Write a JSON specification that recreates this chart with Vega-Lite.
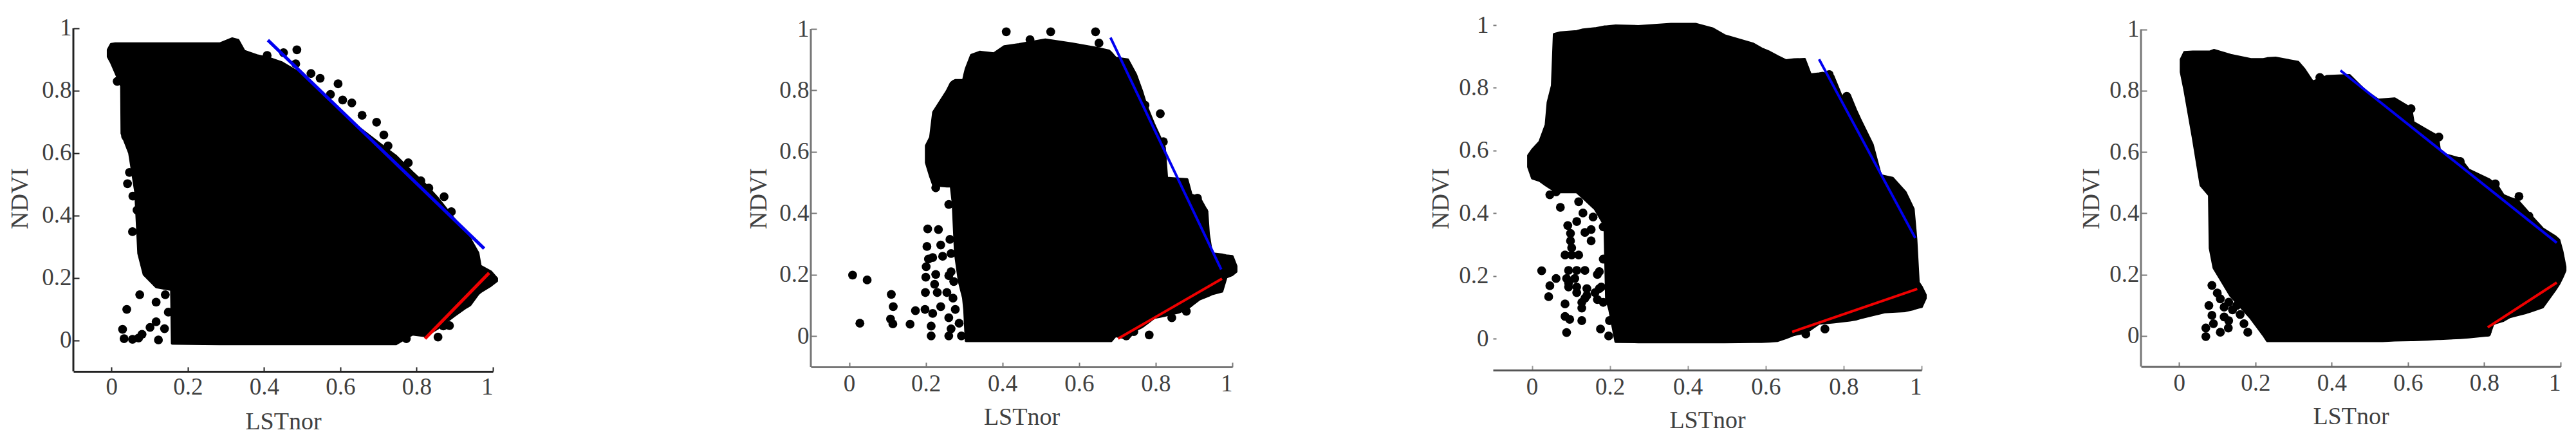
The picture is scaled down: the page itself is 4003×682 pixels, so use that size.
{
"$schema":"https://vega.github.io/schema/vega-lite/v6.json",
"background":"white",
"padding":{"left":12,"top":20,"right":0,"bottom":0},
"config":{"view":{"stroke":null},"font":"Liberation Serif","axis":{"grid":false,"labelFont":"Liberation Serif","titleFont":"Liberation Serif","labelFontSize":37,"titleFontSize":38,"titleFontWeight":"normal","labelColor":"#404040","titleColor":"#404040","labelOverlap":false,"labelBound":false,"labelAngle":0}},
"datasets":{
"frame":[{"x":-0.1,"y":-0.1,"y2":1}],
"a_env":[{"x":-0.009,"y":0.909,"y2":0.931},{"x":-0.001,"y":0.891,"y2":0.949},{"x":0.01,"y":0.86,"y2":0.951},{"x":0.026,"y":0.815,"y2":0.951},{"x":0.027,"y":0.663,"y2":0.951},{"x":0.047,"y":0.6,"y2":0.951},{"x":0.063,"y":0.475,"y2":0.951},{"x":0.071,"y":0.278,"y2":0.951},{"x":0.085,"y":0.211,"y2":0.951},{"x":0.117,"y":0.171,"y2":0.951},{"x":0.157,"y":0.162,"y2":0.951},{"x":0.159,"y":-0.01,"y2":0.951},{"x":0.284,"y":-0.012,"y2":0.951},{"x":0.316,"y":-0.012,"y2":0.967},{"x":0.332,"y":-0.012,"y2":0.962},{"x":0.348,"y":-0.012,"y2":0.927},{"x":0.381,"y":-0.012,"y2":0.913},{"x":0.413,"y":-0.012,"y2":0.904},{"x":0.445,"y":-0.012,"y2":0.891},{"x":0.488,"y":-0.012,"y2":0.86},{"x":0.553,"y":-0.012,"y2":0.792},{"x":0.639,"y":-0.012,"y2":0.69},{"x":0.725,"y":-0.012,"y2":0.609},{"x":0.746,"y":-0.012,"y2":0.59},{"x":0.789,"y":0.019,"y2":0.538},{"x":0.822,"y":0.014,"y2":0.5},{"x":0.854,"y":0.037,"y2":0.457},{"x":0.897,"y":0.077,"y2":0.39},{"x":0.929,"y":0.105,"y2":0.341},{"x":0.94,"y":0.113,"y2":0.325},{"x":0.961,"y":0.148,"y2":0.28},{"x":0.967,"y":0.155,"y2":0.238},{"x":0.994,"y":0.175,"y2":0.22},{"x":1.01,"y":0.19,"y2":0.198}],
"a_pts":[{"x":0.486,"y":0.931},{"x":0.451,"y":0.922},{"x":0.408,"y":0.913},{"x":0.483,"y":0.886},{"x":0.523,"y":0.855},{"x":0.547,"y":0.84},{"x":0.594,"y":0.822},{"x":0.574,"y":0.788},{"x":0.606,"y":0.77},{"x":0.63,"y":0.761},{"x":0.657,"y":0.721},{"x":0.695,"y":0.699},{"x":0.714,"y":0.658},{"x":0.725,"y":0.623},{"x":0.778,"y":0.569},{"x":0.811,"y":0.511},{"x":0.832,"y":0.488},{"x":0.872,"y":0.46},{"x":0.891,"y":0.412},{"x":0.934,"y":0.318},{"x":0.015,"y":0.83},{"x":0.042,"y":0.502},{"x":0.047,"y":0.538},{"x":0.056,"y":0.462},{"x":0.067,"y":0.417},{"x":0.055,"y":0.348},{"x":0.037,"y":0.654},{"x":0.074,"y":0.146},{"x":0.04,"y":0.099},{"x":0.029,"y":0.035},{"x":0.033,"y":0.005},{"x":0.055,"y":0.003},{"x":0.071,"y":0.007},{"x":0.117,"y":0.122},{"x":0.141,"y":0.146},{"x":0.101,"y":0.041},{"x":0.117,"y":0.059},{"x":0.123,"y":0.001},{"x":0.139,"y":0.037},{"x":0.149,"y":0.09},{"x":0.856,"y":0.01},{"x":0.886,"y":0.047},{"x":0.87,"y":0.046},{"x":0.929,"y":0.117},{"x":0.994,"y":0.198},{"x":0.773,"y":0.005},{"x":0.394,"y":0.885},{"x":0.383,"y":0.842},{"x":0.359,"y":0.9},{"x":0.08,"y":0.019},{"x":0.961,"y":0.162}],
"a_lines":[{"x":0.41,"y":0.962,"edge":"dry"},{"x":0.977,"y":0.294,"edge":"dry"},{"x":0.822,"y":0.005,"edge":"wet"},{"x":0.99,"y":0.216,"edge":"wet"}],
"b_env":[{"x":0.201,"y":0.565,"y2":0.62},{"x":0.212,"y":0.52,"y2":0.647},{"x":0.22,"y":0.492,"y2":0.729},{"x":0.255,"y":0.488,"y2":0.797},{"x":0.266,"y":0.488,"y2":0.824},{"x":0.271,"y":0.433,"y2":0.829},{"x":0.277,"y":0.269,"y2":0.833},{"x":0.287,"y":0.178,"y2":0.833},{"x":0.298,"y":0.124,"y2":0.833},{"x":0.301,"y":0.087,"y2":0.85},{"x":0.305,"y":-0.015,"y2":0.87},{"x":0.319,"y":-0.015,"y2":0.915},{"x":0.341,"y":-0.015,"y2":0.925},{"x":0.378,"y":-0.015,"y2":0.92},{"x":0.405,"y":-0.015,"y2":0.943},{"x":0.443,"y":-0.015,"y2":0.95},{"x":0.512,"y":-0.015,"y2":0.965},{"x":0.582,"y":-0.015,"y2":0.952},{"x":0.646,"y":-0.015,"y2":0.938},{"x":0.678,"y":-0.015,"y2":0.929},{"x":0.684,"y":-0.015,"y2":0.922},{"x":0.695,"y":0.001,"y2":0.906},{"x":0.727,"y":-0.008,"y2":0.9},{"x":0.748,"y":0.02,"y2":0.852},{"x":0.764,"y":0.03,"y2":0.797},{"x":0.775,"y":0.04,"y2":0.752},{"x":0.796,"y":0.06,"y2":0.688},{"x":0.823,"y":0.067,"y2":0.615},{"x":0.829,"y":0.069,"y2":0.515},{"x":0.861,"y":0.078,"y2":0.512},{"x":0.882,"y":0.09,"y2":0.51},{"x":0.893,"y":0.1,"y2":0.46},{"x":0.914,"y":0.12,"y2":0.451},{"x":0.934,"y":0.13,"y2":0.406},{"x":0.938,"y":0.132,"y2":0.333},{"x":0.946,"y":0.137,"y2":0.269},{"x":0.973,"y":0.146,"y2":0.265},{"x":0.984,"y":0.192,"y2":0.262},{"x":1.0,"y":0.2,"y2":0.26},{"x":1.01,"y":0.21,"y2":0.228}],
"b_pts":[{"x":0.41,"y":0.991},{"x":0.472,"y":0.965},{"x":0.526,"y":0.991},{"x":0.643,"y":0.991},{"x":0.652,"y":0.954},{"x":0.812,"y":0.724},{"x":0.82,"y":0.633},{"x":0.909,"y":0.449},{"x":0.925,"y":0.406},{"x":0.772,"y":0.752},{"x":0.009,"y":0.199},{"x":0.047,"y":0.183},{"x":0.11,"y":0.136},{"x":0.115,"y":0.096},{"x":0.028,"y":0.042},{"x":0.108,"y":0.056},{"x":0.114,"y":0.04},{"x":0.159,"y":0.039},{"x":0.173,"y":0.083},{"x":0.198,"y":0.087},{"x":0.218,"y":0.074},{"x":0.214,"y":0.033},{"x":0.214,"y":0.001},{"x":0.205,"y":0.349},{"x":0.233,"y":0.347},{"x":0.203,"y":0.292},{"x":0.239,"y":0.297},{"x":0.263,"y":0.315},{"x":0.26,"y":0.429},{"x":0.226,"y":0.483},{"x":0.207,"y":0.251},{"x":0.201,"y":0.226},{"x":0.226,"y":0.201},{"x":0.2,"y":0.192},{"x":0.223,"y":0.169},{"x":0.199,"y":0.142},{"x":0.23,"y":0.142},{"x":0.218,"y":0.256},{"x":0.244,"y":0.26},{"x":0.266,"y":0.269},{"x":0.266,"y":0.21},{"x":0.26,"y":0.197},{"x":0.273,"y":0.178},{"x":0.255,"y":0.142},{"x":0.239,"y":0.096},{"x":0.271,"y":0.124},{"x":0.26,"y":0.06},{"x":0.277,"y":0.087},{"x":0.266,"y":0.024},{"x":0.26,"y":0.001},{"x":0.287,"y":0.042},{"x":0.293,"y":0.001},{"x":0.842,"y":0.06},{"x":0.88,"y":0.081},{"x":0.783,"y":0.004},{"x":0.743,"y":0.015},{"x":0.723,"y":0.001}],
"b_lines":[{"x":0.682,"y":0.972,"edge":"dry"},{"x":0.971,"y":0.217,"edge":"dry"},{"x":0.702,"y":-0.008,"edge":"wet"},{"x":0.973,"y":0.187,"edge":"wet"}],
"c_env":[{"x":-0.009,"y":0.548,"y2":0.584},{"x":0.001,"y":0.512,"y2":0.602},{"x":0.02,"y":0.504,"y2":0.628},{"x":0.036,"y":0.49,"y2":0.682},{"x":0.041,"y":0.486,"y2":0.753},{"x":0.052,"y":0.477,"y2":0.807},{"x":0.057,"y":0.477,"y2":0.971},{"x":0.073,"y":0.468,"y2":0.976},{"x":0.115,"y":0.468,"y2":0.98},{"x":0.131,"y":0.45,"y2":0.985},{"x":0.162,"y":0.414,"y2":0.989},{"x":0.187,"y":0.361,"y2":0.995},{"x":0.191,"y":0.129,"y2":0.995},{"x":0.199,"y":0.094,"y2":0.996},{"x":0.215,"y":-0.009,"y2":0.998},{"x":0.273,"y":-0.01,"y2":0.996},{"x":0.357,"y":-0.01,"y2":1.003},{"x":0.42,"y":-0.01,"y2":1.003},{"x":0.463,"y":-0.01,"y2":0.989},{"x":0.494,"y":-0.01,"y2":0.967},{"x":0.568,"y":-0.009,"y2":0.94},{"x":0.589,"y":-0.009,"y2":0.925},{"x":0.61,"y":-0.008,"y2":0.914},{"x":0.631,"y":-0.006,"y2":0.9},{"x":0.652,"y":0.003,"y2":0.887},{"x":0.673,"y":0.013,"y2":0.89},{"x":0.7,"y":0.02,"y2":0.891},{"x":0.715,"y":0.03,"y2":0.842},{"x":0.737,"y":0.049,"y2":0.845},{"x":0.747,"y":0.05,"y2":0.847},{"x":0.773,"y":0.053,"y2":0.838},{"x":0.795,"y":0.056,"y2":0.771},{"x":0.816,"y":0.059,"y2":0.775},{"x":0.831,"y":0.062,"y2":0.73},{"x":0.842,"y":0.066,"y2":0.7},{"x":0.874,"y":0.076,"y2":0.619},{"x":0.895,"y":0.082,"y2":0.521},{"x":0.905,"y":0.085,"y2":0.518},{"x":0.926,"y":0.087,"y2":0.512},{"x":0.958,"y":0.089,"y2":0.468},{"x":0.979,"y":0.095,"y2":0.414},{"x":0.986,"y":0.098,"y2":0.316},{"x":0.992,"y":0.1,"y2":0.18},{"x":1.0,"y":0.102,"y2":0.165},{"x":1.01,"y":0.129,"y2":0.14}],
"c_pts":[{"x":0.025,"y":0.217},{"x":0.062,"y":0.192},{"x":0.046,"y":0.169},{"x":0.043,"y":0.134},{"x":0.085,"y":0.111},{"x":0.085,"y":0.071},{"x":0.097,"y":0.062},{"x":0.089,"y":0.02},{"x":0.128,"y":0.058},{"x":0.128,"y":0.098},{"x":0.176,"y":0.031},{"x":0.197,"y":0.009},{"x":0.199,"y":0.058},{"x":0.094,"y":0.218},{"x":0.115,"y":0.218},{"x":0.136,"y":0.218},{"x":0.089,"y":0.192},{"x":0.11,"y":0.192},{"x":0.094,"y":0.165},{"x":0.115,"y":0.165},{"x":0.141,"y":0.16},{"x":0.173,"y":0.16},{"x":0.094,"y":0.178},{"x":0.115,"y":0.147},{"x":0.141,"y":0.138},{"x":0.162,"y":0.147},{"x":0.178,"y":0.165},{"x":0.168,"y":0.205},{"x":0.173,"y":0.214},{"x":0.183,"y":0.254},{"x":0.128,"y":0.116},{"x":0.168,"y":0.125},{"x":0.183,"y":0.116},{"x":0.136,"y":0.129},{"x":0.085,"y":0.267},{"x":0.102,"y":0.267},{"x":0.12,"y":0.267},{"x":0.102,"y":0.29},{"x":0.099,"y":0.312},{"x":0.099,"y":0.336},{"x":0.092,"y":0.361},{"x":0.136,"y":0.339},{"x":0.152,"y":0.348},{"x":0.152,"y":0.312},{"x":0.115,"y":0.374},{"x":0.131,"y":0.401},{"x":0.12,"y":0.437},{"x":0.157,"y":0.388},{"x":0.073,"y":0.419},{"x":0.046,"y":0.459},{"x":0.062,"y":0.468},{"x":0.183,"y":0.357},{"x":0.763,"y":0.842},{"x":0.808,"y":0.773},{"x":0.752,"y":0.031},{"x":0.703,"y":0.015}],
"c_lines":[{"x":0.737,"y":0.891,"edge":"dry"},{"x":0.984,"y":0.321,"edge":"dry"},{"x":0.668,"y":0.022,"edge":"wet"},{"x":0.989,"y":0.159,"edge":"wet"}],
"d_env":[{"x":0.005,"y":0.861,"y2":0.902},{"x":0.014,"y":0.806,"y2":0.925},{"x":0.036,"y":0.651,"y2":0.927},{"x":0.057,"y":0.491,"y2":0.927},{"x":0.079,"y":0.459,"y2":0.927},{"x":0.081,"y":0.286,"y2":0.927},{"x":0.091,"y":0.222,"y2":0.932},{"x":0.135,"y":0.131,"y2":0.916},{"x":0.188,"y":0.058,"y2":0.902},{"x":0.221,"y":0.003,"y2":0.902},{"x":0.231,"y":-0.016,"y2":0.905},{"x":0.253,"y":-0.016,"y2":0.907},{"x":0.312,"y":-0.016,"y2":0.893},{"x":0.328,"y":-0.016,"y2":0.87},{"x":0.35,"y":-0.016,"y2":0.829},{"x":0.388,"y":-0.016,"y2":0.847},{"x":0.447,"y":-0.016,"y2":0.85},{"x":0.49,"y":-0.016,"y2":0.797},{"x":0.522,"y":-0.016,"y2":0.77},{"x":0.533,"y":-0.016,"y2":0.771},{"x":0.565,"y":-0.014,"y2":0.774},{"x":0.608,"y":-0.013,"y2":0.742},{"x":0.614,"y":-0.013,"y2":0.697},{"x":0.651,"y":-0.011,"y2":0.67},{"x":0.678,"y":-0.009,"y2":0.651},{"x":0.684,"y":-0.009,"y2":0.596},{"x":0.737,"y":-0.006,"y2":0.578},{"x":0.759,"y":-0.004,"y2":0.542},{"x":0.813,"y":0.003,"y2":0.51},{"x":0.823,"y":0.039,"y2":0.5},{"x":0.829,"y":0.042,"y2":0.5},{"x":0.85,"y":0.05,"y2":0.459},{"x":0.867,"y":0.062,"y2":0.45},{"x":0.888,"y":0.069,"y2":0.441},{"x":0.91,"y":0.076,"y2":0.41},{"x":0.92,"y":0.08,"y2":0.395},{"x":0.953,"y":0.094,"y2":0.35},{"x":0.985,"y":0.149,"y2":0.325},{"x":0.996,"y":0.17,"y2":0.313},{"x":1.004,"y":0.19,"y2":0.277},{"x":1.012,"y":0.213,"y2":0.226}],
"d_pts":[{"x":0.369,"y":0.843},{"x":0.56,"y":0.761},{"x":0.608,"y":0.741},{"x":0.681,"y":0.649},{"x":0.891,"y":0.455},{"x":0.917,"y":0.391},{"x":0.829,"y":0.496},{"x":0.737,"y":0.569},{"x":0.086,"y":0.165},{"x":0.078,"y":0.099},{"x":0.086,"y":0.067},{"x":0.108,"y":0.121},{"x":0.118,"y":0.094},{"x":0.118,"y":0.062},{"x":0.14,"y":0.085},{"x":0.07,"y":0.026},{"x":0.07,"y":-0.002},{"x":0.108,"y":0.012},{"x":0.129,"y":0.026},{"x":0.18,"y":0.012},{"x":0.151,"y":0.099},{"x":0.178,"y":0.112},{"x":0.194,"y":0.085},{"x":0.21,"y":0.121},{"x":0.199,"y":0.14},{"x":0.807,"y":0.012},{"x":0.1,"y":0.14},{"x":0.13,"y":0.11},{"x":0.16,"y":0.07},{"x":0.17,"y":0.04},{"x":0.13,"y":0.05},{"x":0.09,"y":0.04}],
"d_lines":[{"x":0.423,"y":0.866,"edge":"dry"},{"x":0.99,"y":0.304,"edge":"dry"},{"x":0.809,"y":0.028,"edge":"wet"},{"x":0.99,"y":0.174,"edge":"wet"}]
},
"spacing":236,
"hconcat":[
{"spacing":297,"hconcat":[
{"spacing":386,"hconcat":[
{"width":652,"height":538,"layer":[
{"data":{"name":"a_env"},"mark":{"type":"area","color":"black","stroke":"black","strokeWidth":4,"strokeJoin":"round","clip":false},"encoding":{"x":{"field":"x","type":"quantitative","title":"LSTnor","scale":{"domain":[-0.1,1],"nice":false,"zero":false},"axis":{"values":[0,0.2,0.4,0.6,0.8,1],"format":"~g","domainColor":"#222222","domainWidth":3,"tickColor":"#222222","tickWidth":2,"tickSize":-7,"labelPadding":13,"titlePadding":17}},"y":{"field":"y","type":"quantitative","title":"NDVI","scale":{"domain":[-0.1,1.0103],"nice":false,"zero":false},"axis":{"values":[0,0.2,0.4,0.6,0.8,1],"format":"~g","domain":false,"tickColor":"#222222","tickWidth":2,"tickSize":-9,"labelPadding":12,"titlePadding":14}},"y2":{"field":"y2"}}},
{"data":{"name":"a_pts"},"mark":{"type":"circle","color":"black","size":190,"opacity":1},"encoding":{"x":{"field":"x","type":"quantitative"},"y":{"field":"y","type":"quantitative"}}},
{"data":{"name":"frame"},"mark":{"type":"rule","color":"#222222","strokeWidth":3},"encoding":{"x":{"field":"x","type":"quantitative"},"y":{"field":"y","type":"quantitative"},"y2":{"field":"y2"}}},
{"data":{"name":"a_lines"},"mark":{"type":"line","strokeWidth":5},"encoding":{"x":{"field":"x","type":"quantitative"},"y":{"field":"y","type":"quantitative"},"color":{"field":"edge","type":"nominal","legend":null,"scale":{"domain":["dry","wet"],"range":["#0000f0","#f00000"]}}}}
]},
{"width":655,"height":538,"layer":[
{"data":{"name":"b_env"},"mark":{"type":"area","color":"black","stroke":"black","strokeWidth":4,"strokeJoin":"round","clip":false},"encoding":{"x":{"field":"x","type":"quantitative","title":"LSTnor","scale":{"domain":[-0.1,1],"nice":false,"zero":false},"axis":{"values":[0,0.2,0.4,0.6,0.8,1],"format":"~g","domainColor":"#777777","domainWidth":3,"tickColor":"#777777","tickWidth":2,"tickSize":-7,"offset":-7,"labelPadding":15,"titlePadding":15}},"y":{"field":"y","type":"quantitative","title":"NDVI","scale":{"domain":[-0.1147,1.0126],"nice":false,"zero":false},"axis":{"values":[0,0.2,0.4,0.6,0.8,1],"format":"~g","domain":false,"tickColor":"#777777","tickWidth":2,"tickSize":-9,"labelPadding":12,"titlePadding":12}},"y2":{"field":"y2"}}},
{"data":{"name":"b_pts"},"mark":{"type":"circle","color":"black","size":190,"opacity":1},"encoding":{"x":{"field":"x","type":"quantitative"},"y":{"field":"y","type":"quantitative"}}},
{"data":{"name":"frame"},"mark":{"type":"rule","color":"#777777","strokeWidth":3},"encoding":{"x":{"field":"x","type":"quantitative"},"y":{"field":"y","type":"quantitative"},"y2":{"field":"y2"}}},
{"data":{"name":"b_lines"},"mark":{"type":"line","strokeWidth":4},"encoding":{"x":{"field":"x","type":"quantitative"},"y":{"field":"y","type":"quantitative"},"color":{"field":"edge","type":"nominal","legend":null,"scale":{"domain":["dry","wet"],"range":["#0000f0","#f00000"]}}}}
]}
]},
{"width":666,"height":538,"layer":[
{"data":{"name":"c_env"},"mark":{"type":"area","color":"black","stroke":"black","strokeWidth":4,"strokeJoin":"round","clip":false},"encoding":{"x":{"field":"x","type":"quantitative","title":"LSTnor","scale":{"domain":[-0.1,1],"nice":false,"zero":false},"axis":{"values":[0,0.2,0.4,0.6,0.8,1],"format":"~g","domainColor":"#555555","domainWidth":3,"tickColor":"#999999","tickWidth":2,"tickSize":-7,"offset":-2,"labelPadding":15,"titlePadding":15}},"y":{"field":"y","type":"quantitative","title":"NDVI","scale":{"domain":[-0.1041,1],"nice":false,"zero":false},"axis":{"values":[0,0.2,0.4,0.6,0.8,1],"format":"~g","domain":false,"tickColor":"#777777","tickWidth":2,"tickSize":-5,"labelPadding":12,"titlePadding":8}},"y2":{"field":"y2"}}},
{"data":{"name":"c_pts"},"mark":{"type":"circle","color":"black","size":190,"opacity":1},"encoding":{"x":{"field":"x","type":"quantitative"},"y":{"field":"y","type":"quantitative"}}},
{"data":{"name":"c_lines"},"mark":{"type":"line","strokeWidth":4},"encoding":{"x":{"field":"x","type":"quantitative"},"y":{"field":"y","type":"quantitative"},"color":{"field":"edge","type":"nominal","legend":null,"scale":{"domain":["dry","wet"],"range":["#0000f0","#f00000"]}}}}
]}
]},
{"width":652,"height":538,"layer":[
{"data":{"name":"d_env"},"mark":{"type":"area","color":"black","stroke":"black","strokeWidth":4,"strokeJoin":"round","clip":false},"encoding":{"x":{"field":"x","type":"quantitative","title":"LSTnor","scale":{"domain":[-0.1,1],"nice":false,"zero":false},"axis":{"values":[0,0.2,0.4,0.6,0.8,1],"format":"~g","domainColor":"#666666","domainWidth":3,"tickColor":"#777777","tickWidth":2,"tickSize":-7,"offset":-7.5,"labelPadding":15,"titlePadding":15}},"y":{"field":"y","type":"quantitative","title":"NDVI","scale":{"domain":[-0.1157,1.0139],"nice":false,"zero":false},"axis":{"values":[0,0.2,0.4,0.6,0.8,1],"format":"~g","domain":false,"tickColor":"#777777","tickWidth":2,"tickSize":-9,"labelPadding":12,"titlePadding":8}},"y2":{"field":"y2"}}},
{"data":{"name":"d_pts"},"mark":{"type":"circle","color":"black","size":190,"opacity":1},"encoding":{"x":{"field":"x","type":"quantitative"},"y":{"field":"y","type":"quantitative"}}},
{"data":{"name":"frame"},"mark":{"type":"rule","color":"#777777","strokeWidth":3},"encoding":{"x":{"field":"x","type":"quantitative"},"y":{"field":"y","type":"quantitative"},"y2":{"field":"y2"}}},
{"data":{"name":"d_lines"},"mark":{"type":"line","strokeWidth":4},"encoding":{"x":{"field":"x","type":"quantitative"},"y":{"field":"y","type":"quantitative"},"color":{"field":"edge","type":"nominal","legend":null,"scale":{"domain":["dry","wet"],"range":["#0000f0","#f00000"]}}}}
]}
]
}
